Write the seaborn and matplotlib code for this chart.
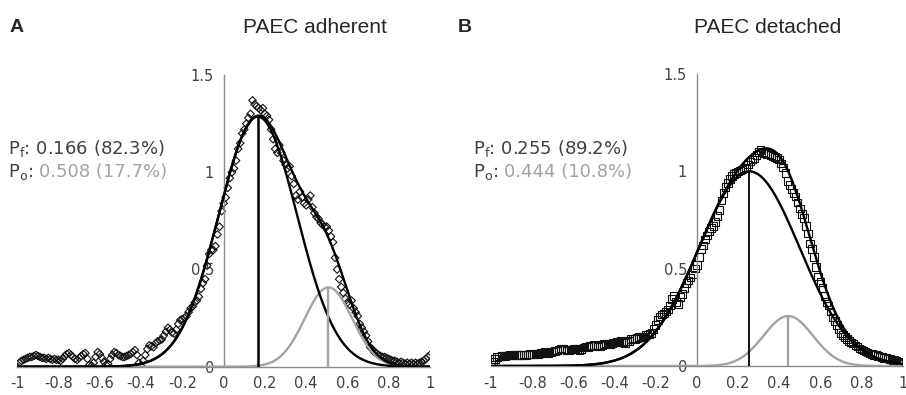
import numpy as np
import pandas as pd
import matplotlib.pyplot as plt
import seaborn as sns

# x grid of the measured profile (step 0.01 from -1 to 1)
x_data = np.round(np.linspace(-1, 1, 201), 2)

# PAEC adherent - measured values (diamonds)
adherent_y = [
    0.00, 0.02, 0.03, 0.035, 0.04, 0.045, 0.05, 0.05, 0.055, 0.06,
    0.055, 0.05, 0.045, 0.045, 0.04, 0.045, 0.04, 0.035, 0.04, 0.035,
    0.035, 0.03, 0.04, 0.055, 0.065, 0.07, 0.06, 0.05, 0.04, 0.035,
    0.045, 0.055, 0.065, 0.07, 0.04, 0.01, 0.005, 0.02, 0.05, 0.075,
    0.065, 0.045, 0.025, 0.01, 0.015, 0.04, 0.06, 0.075, 0.07, 0.06,
    0.055, 0.05, 0.05, 0.055, 0.06, 0.065, 0.075, 0.085, 0.06, 0.02,
    0.005, 0.03, 0.06, 0.09, 0.11, 0.105, 0.10, 0.12, 0.13, 0.135,
    0.14, 0.16, 0.18, 0.20, 0.19, 0.175, 0.17, 0.19, 0.22, 0.24,
    0.245, 0.25, 0.26, 0.28, 0.30, 0.31, 0.33, 0.34, 0.36, 0.40,
    0.43, 0.45, 0.52, 0.58, 0.60, 0.60, 0.62, 0.68, 0.72, 0.80,
    0.84, 0.87, 0.92, 0.97, 1.00, 1.02, 1.06, 1.12, 1.15, 1.20,
    1.22, 1.25, 1.28, 1.30, 1.37, 1.35, 1.34, 1.33, 1.32, 1.33,
    1.30, 1.29, 1.27, 1.22, 1.17, 1.12, 1.10, 1.14, 1.10, 1.06,
    1.04, 1.02, 1.03, 0.98, 0.94, 0.88, 0.86, 0.90, 0.87, 0.84,
    0.83, 0.86, 0.88, 0.82, 0.79, 0.77, 0.76, 0.74, 0.73, 0.72,
    0.72, 0.70, 0.67, 0.64, 0.56, 0.50, 0.45, 0.41, 0.38, 0.35,
    0.33, 0.32, 0.34, 0.30, 0.28, 0.26, 0.22, 0.20, 0.18, 0.16,
    0.13, 0.10, 0.09, 0.075, 0.07, 0.06, 0.055, 0.05, 0.05, 0.045,
    0.04, 0.035, 0.03, 0.03, 0.025, 0.02, 0.025, 0.02, 0.015, 0.02,
    0.015, 0.02, 0.015, 0.02, 0.015, 0.02, 0.025, 0.03, 0.04, 0.05,
    0.06,
]

# PAEC detached - measured values (squares)
detached_y = [
    0.005, 0.02, 0.035, 0.045, 0.048, 0.05, 0.052, 0.05, 0.053, 0.055,
    0.054, 0.056, 0.055, 0.057, 0.056, 0.058, 0.06, 0.058, 0.06, 0.062,
    0.06, 0.063, 0.065, 0.062, 0.066, 0.068, 0.072, 0.07, 0.068, 0.072,
    0.075, 0.078, 0.08, 0.085, 0.09, 0.088, 0.085, 0.08, 0.083, 0.085,
    0.088, 0.09, 0.086, 0.082, 0.088, 0.095, 0.10, 0.098, 0.104, 0.106,
    0.108, 0.105, 0.10, 0.103, 0.108, 0.112, 0.115, 0.11, 0.112, 0.118,
    0.12, 0.122, 0.125, 0.128, 0.12, 0.118, 0.125, 0.13, 0.138, 0.142,
    0.14, 0.145, 0.15, 0.152, 0.15, 0.158, 0.162, 0.165, 0.17, 0.19,
    0.21, 0.235, 0.255, 0.265, 0.27, 0.28, 0.29, 0.31, 0.345, 0.36,
    0.33, 0.32, 0.355, 0.37, 0.40, 0.425, 0.44, 0.455, 0.47, 0.50,
    0.52, 0.56, 0.60, 0.62, 0.65, 0.67, 0.69, 0.71, 0.72, 0.74,
    0.77, 0.80, 0.85, 0.89, 0.92, 0.94, 0.96, 0.975, 0.985, 0.99,
    1.00, 1.005, 1.01, 1.015, 1.02, 1.035, 1.05, 1.06, 1.07, 1.085,
    1.10, 1.11, 1.10, 1.095, 1.09, 1.09, 1.085, 1.08, 1.075, 1.07,
    1.06, 1.04, 1.02, 0.99, 0.95, 0.93, 0.91, 0.89, 0.87, 0.84,
    0.81, 0.78, 0.76, 0.72, 0.68, 0.63, 0.60, 0.56, 0.51, 0.46,
    0.43, 0.40, 0.36, 0.33, 0.31, 0.28, 0.25, 0.23, 0.21, 0.19,
    0.17, 0.16, 0.15, 0.14, 0.13, 0.12, 0.115, 0.105, 0.10, 0.09,
    0.085, 0.08, 0.075, 0.07, 0.065, 0.062, 0.058, 0.055, 0.05, 0.048,
    0.045, 0.042, 0.04, 0.038, 0.035, 0.032, 0.03, 0.026, 0.022, 0.018,
    0.012,
]

# fitted peaks: (amplitude, position, sigma left, sigma right)
adherent_pf = (1.286, 0.166, 0.19, 0.19)
adherent_po = (0.408, 0.508, 0.115, 0.115)
detached_pf = (1.0, 0.255, 0.245, 0.245)
detached_po = (0.257, 0.444, 0.12, 0.12)

adherent_text = ("0.166 (82.3%)", "0.508 (17.7%)")
detached_text = ("0.255 (89.2%)", "0.444 (10.8%)")

x_ticks = [-1, -0.8, -0.6, -0.4, -0.2, 0, 0.2, 0.4, 0.6, 0.8, 1]
x_tick_labels = ["-1", "-0.8", "-0.6", "-0.4", "-0.2", "0", "0.2", "0.4", "0.6", "0.8", "1"]
y_ticks = [0, 0.5, 1, 1.5]
y_tick_labels = ["0", "0.5", "1", "1.5"]

DARK = "#404040"
LIGHT = "#a3a3a3"
AXIS = "#8a8a8a"

sns.set_style("white")
plt.rcParams["font.family"] = ["DejaVu Sans"]


def peak(x, p):
    amp, mu, sl, sr = p
    s = np.where(x < mu, sl, sr)
    return amp * np.exp(-(x - mu) ** 2 / (2 * s ** 2))


def draw_panel(ax, y, marker, msize, pf, po, vlw):
    grid = np.linspace(-1, 1, 401)
    fit_f = peak(grid, pf)
    fit_o = peak(grid, po)

    df = pd.DataFrame({"x": x_data, "y": y})
    sns.scatterplot(data=df, x="x", y="y", marker=marker, s=msize, color="black", ax=ax, zorder=2)
    coll = ax.collections[-1]
    coll.set_facecolor("none")
    coll.set_edgecolor("#111111")
    coll.set_linewidth(0.8)

    sns.lineplot(x=grid, y=fit_o, color=LIGHT, lw=1.7, ax=ax, zorder=3)
    sns.lineplot(x=grid, y=fit_f, color="black", lw=1.7, ax=ax, zorder=3)
    sns.lineplot(x=grid, y=fit_f + fit_o, color="black", lw=1.7, ax=ax, zorder=3)
    ax.vlines(pf[1], 0, pf[0], color="black", lw=vlw, zorder=3)
    ax.vlines(po[1], 0, po[0], color=LIGHT, lw=1.7, zorder=3)

    ax.set_xlim(-1, 1)
    ax.set_ylim(0, 1.5)
    ax.set_xticks(x_ticks)
    ax.set_xticklabels(x_tick_labels)
    ax.set_yticks(y_ticks)
    ax.set_yticklabels(y_tick_labels)
    ax.set_xlabel("")
    ax.set_ylabel("")
    for side in ["top", "right"]:
        ax.spines[side].set_visible(False)
    ax.spines["left"].set_position(("data", 0))
    for side in ["left", "bottom"]:
        ax.spines[side].set_color(AXIS)
        ax.spines[side].set_linewidth(1.0)
    ax.tick_params(axis="both", direction="out", length=4, width=0.9, color=AXIS,
                   labelsize=10.5, labelcolor=DARK, pad=3)
    ax.patch.set_alpha(0)


fig = plt.figure(figsize=(9.06, 3.95), dpi=100)
axA = fig.add_axes([0.0191, 0.0717, 0.4555, 0.7383])
axB = fig.add_axes([0.542, 0.0734, 0.4543, 0.7393])

draw_panel(axA, adherent_y, "D", 15, adherent_pf, adherent_po, 1.8)
draw_panel(axB, detached_y, "s", 30, detached_pf, detached_po, 1.3)

# panel letters and titles
title_font = ["Liberation Sans", "DejaVu Sans"]
fig.text(0.011, 0.93, "A", fontsize=14, fontweight="bold", family=title_font, va="center")
fig.text(0.348, 0.93, "PAEC adherent", fontsize=15, family=title_font, va="center", ha="center")
fig.text(0.5055, 0.93, "B", fontsize=14, fontweight="bold", family=title_font, va="center")
fig.text(0.8477, 0.93, "PAEC detached", fontsize=15, family=title_font, va="center", ha="center")

# peak annotations
fig.canvas.draw()
renderer = fig.canvas.get_renderer()
W = fig.bbox.width
for x0, texts in [(0.0088, adherent_text), (0.522, detached_text)]:
    fig.text(x0, 0.6101, r"P$_\mathregular{f}$: " + texts[0], fontsize=13, color=DARK, va="baseline")
    t = fig.text(x0, 0.5519, r"P$_\mathregular{o}$:", fontsize=13, color=DARK, va="baseline")
    bb = t.get_window_extent(renderer)
    fig.text(bb.x1 / W + 6 / W, 0.5519, texts[1], fontsize=13, color=LIGHT, va="baseline")

fig.savefig("out.png", dpi=100)
